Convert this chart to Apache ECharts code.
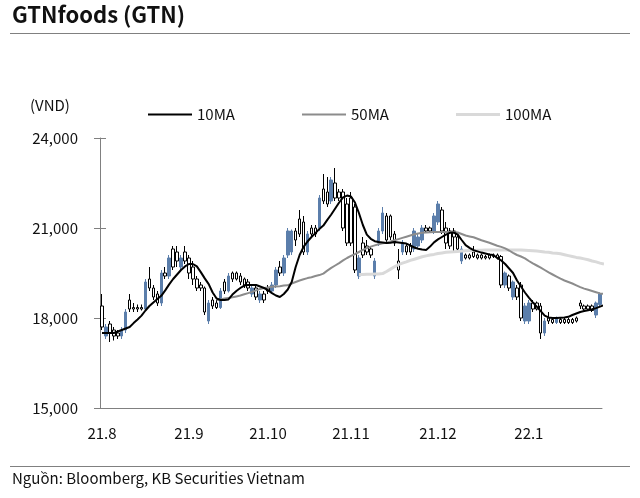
<!DOCTYPE html>
<html>
<head>
<meta charset="utf-8">
<script src="https://cdn.jsdelivr.net/npm/echarts@6/dist/echarts.min.js"></script>
<style>
html,body{margin:0;padding:0;background:#fff;}
#chart{width:640px;height:498px;}
</style>
</head>
<body>
<div id="chart"></div>
<script>
// ---- data ----
var startDate = "2021-08-02";
var endDate = "2022-01-28";
var holidays = ["2021-09-02", "2021-09-03", "2022-01-03"];
var yTicks = [15000, 18000, 21000, 24000];

var opens = [18400,17400,17800,17600,17500,17400,17600,18600,18350,18350,18350,18300,19300,19000,18800,18500,19500,19400,20300,20200,19700,20200,
20000,19700,19300,19100,19000,17900,18600,18500,18350,19200,18900,19500,19500,19400,19300,19200,18800,19000,18600,18800,
19000,18900,19100,19700,19500,20100,20200,20900,21300,21200,20200,21000,21000,21000,22300,22200,21900,22500,22200,22200,21800,
22000,21700,19400,20500,20400,20300,19400,20500,20900,21400,21400,20800,19900,20200,20400,20400,20300,20400,20600,21000,21000,20900,
21200,21600,21000,20900,20900,20700,19900,20100,20100,20200,20100,20100,20050,20100,20100,20100,20050,19100,19400,18700,19000,19100,17900,
17900,18500,18500,18400,17500,18000,17950,17850,17950,17950,17950,17950,18000,18500,18400,18400,18400,18100,18450,19200];
var closes = [17700,17700,17500,17400,17400,17600,18200,18300,18300,18300,18300,19200,19000,18700,18500,19500,19400,20000,19700,19900,20000,19900,
19500,19300,19000,19000,18200,18500,18400,18350,18900,18900,19400,19300,19300,19200,19100,19000,19000,18700,18800,18600,
18900,19100,19600,19500,20000,20900,20900,20600,20800,20200,20800,20800,20800,22000,21900,21800,22600,22000,22000,21000,20500,
20500,19600,20000,20100,20200,20100,19900,20900,21500,20600,20700,20500,19600,20500,20200,20200,20900,20700,21000,20900,20900,21400,
21800,20900,20500,20400,20700,20300,20300,20000,20000,20050,20000,20000,20000,20000,20050,20000,19100,19500,19000,19200,18700,18000,18400,
18500,18300,18300,17500,17900,17900,17850,18000,17850,17850,17850,17850,17900,18400,18300,18300,18250,18500,18800,18900];
var lows = [17600,17300,17200,17250,17300,17300,17500,18200,18200,18200,18250,18300,18900,18600,18400,18400,19300,19300,19600,19700,19600,19800,
19300,19100,18900,18900,18100,17800,18300,18300,18300,18800,18850,19200,19250,19100,19000,18900,18700,18600,18500,18500,
18800,18850,19000,19400,19400,20000,20100,20400,20700,20100,20100,20700,20700,20900,21800,21700,21800,21900,21900,20900,20400,
20400,19500,19300,20000,20100,20000,19300,20400,20800,20500,20600,20400,19300,20100,20100,20100,20200,20300,20500,20850,20850,20800,
21100,20800,20300,20300,20200,20200,19800,19950,19950,20000,19950,19950,19950,19950,20000,19950,19000,19000,18900,18600,18600,17900,17800,
17800,18200,18250,17300,17400,17800,17800,17800,17800,17800,17800,17800,17850,18300,18250,18250,18200,18000,18400,18850];
var highs = [18800,17800,17900,17700,17600,17700,18300,18800,18500,18450,18450,19300,19700,19100,18900,19600,19700,20100,20400,20400,20100,20400,
20100,19900,19400,19200,19050,18600,18700,18600,19000,19300,19500,19550,19550,19500,19350,19300,19100,19100,18900,18900,
19100,19200,19700,19900,20100,21000,20950,21000,21600,21400,20900,21100,21100,22100,22800,22700,22700,23000,22300,22300,22000,
22200,21800,20100,20700,20600,20400,20000,21000,21700,21500,21450,20900,20300,20600,20500,20500,21000,20800,21100,21100,21050,21500,
21900,21700,21200,21000,21000,20800,20400,20150,20150,20400,20150,20150,20100,20150,20150,20150,20100,19550,19450,19250,19100,19200,18500,
18600,18600,18550,18500,18000,18200,18000,18050,18000,18000,18000,18000,18050,18600,18450,18450,18450,18550,18850,19300];

var ma10 = [17500,17500,17500,17500,17550,17600,17650,17700,17830,17950,18080,18250,18400,18520,18630,18740,18920,19120,19300,19450,19600,19720,
19800,19800,19720,19530,19320,19130,18850,18650,18600,18600,18620,18780,18900,19000,19080,19100,19100,19100,19050,19000,
18930,18830,18750,18700,18800,18950,19200,19700,20100,20370,20550,20700,20830,20970,21080,21270,21450,21650,21850,22020,22080,
22050,21850,21500,21100,20780,20640,20560,20530,20520,20500,20510,20530,20520,20500,20480,20420,20350,20310,20280,20270,20380,20520,
20620,20700,20780,20840,20850,20780,20600,20430,20340,20260,20220,20180,20150,20120,20100,20000,19920,19800,19650,19500,19250,19050,18850,
18680,18520,18380,18230,18080,18020,18000,18000,18010,18020,18040,18100,18150,18200,18230,18260,18290,18330,18380,18430];
var ma50 = [null,null,null,null,null,null,null,null,null,null,null,null,null,null,null,null,null,null,null,null,null,null,
null,null,null,null,null,null,null,18600,18620,18650,18670,18690,18720,18750,18790,18830,18870,18920,18970,19000,
19020,19040,19050,19060,19080,19090,19150,19200,19250,19290,19330,19360,19400,19430,19480,19580,19670,19750,19830,19920,20000,
20070,20130,20200,20270,20330,20380,20420,20460,20490,20510,20550,20590,20630,20670,20710,20750,20790,20820,20840,20850,20860,20870,
20870,20870,20870,20870,20870,20850,20800,20750,20720,20690,20640,20590,20550,20510,20460,20410,20370,20320,20250,20170,20100,20050,19990,
19900,19820,19750,19680,19600,19520,19450,19380,19310,19250,19200,19150,19090,19030,18980,18940,18900,18860,18820,18800];
var ma100 = [null,null,null,null,null,null,null,null,null,null,null,null,null,null,null,null,null,null,null,null,null,null,
null,null,null,null,null,null,null,null,null,null,null,null,null,null,null,null,null,null,null,null,
null,null,null,null,null,null,null,null,null,null,null,null,null,null,null,null,null,null,null,null,null,
null,null,19450,19450,19460,19460,19470,19470,19480,19550,19630,19710,19780,19830,19870,19920,19960,20000,20040,20070,20100,20120,
20150,20170,20190,20200,20210,20220,20230,20240,20250,20250,20260,20260,20270,20270,20270,20270,20270,20270,20270,20270,20270,20270,20260,
20250,20240,20230,20220,20200,20190,20170,20160,20140,20110,20080,20050,20020,20000,19970,19940,19900,19870,19830,19800];

// ---- build categories (trading days) ----
function fmt(d){var m=d.getMonth()+1, dd=d.getDate();return d.getFullYear()+"-"+(m<10?"0":"")+m+"-"+(dd<10?"0":"")+dd;}
var dates = [];
(function(){
  var d = new Date(startDate+"T00:00:00"), e = new Date(endDate+"T00:00:00");
  while (d <= e) {
    var wd = d.getDay(), s = fmt(d);
    if (wd !== 0 && wd !== 6 && holidays.indexOf(s) < 0) dates.push(s);
    d.setDate(d.getDate()+1);
  }
})();
var monthStart = {};
dates.forEach(function(s,i){ if (i===0 || s.slice(0,7)!==dates[i-1].slice(0,7)) monthStart[i]=true; });
function monthLabel(s){ return s.slice(2,4)+"."+parseInt(s.slice(5,7),10); }

var candles = dates.map(function(s,i){ return [opens[i], closes[i], lows[i], highs[i]]; });

var FONT = "'Noto Sans CJK KR','Noto Sans',sans-serif";
var chart = echarts.init(document.getElementById('chart'), null, {renderer:'canvas'});
chart.setOption({
  animation:false,
  backgroundColor:'#ffffff',
  textStyle:{fontFamily:FONT},
  grid:{left:100, right:38, top:138, bottom:90},
  legend:[
    {data:['10MA'], left:143, top:102, icon:'rect', itemWidth:44, itemHeight:2, itemGap:0, textStyle:{fontFamily:FONT,fontSize:15,color:'#111'}},
    {data:['50MA'], left:297, top:102, icon:'rect', itemWidth:44, itemHeight:2, itemGap:0, textStyle:{fontFamily:FONT,fontSize:15,color:'#111'}},
    {data:['100MA'], left:451, top:102, icon:'rect', itemWidth:44, itemHeight:3, itemGap:0, textStyle:{fontFamily:FONT,fontSize:15,color:'#111'}}
  ],
  xAxis:{
    type:'category', data:dates, boundaryGap:true,
    axisLine:{lineStyle:{color:'#808080',width:1}},
    axisTick:{inside:true, length:6, lineStyle:{color:'#808080'}, interval:function(i){return !!monthStart[i];}},
    axisLabel:{interval:function(i){return !!monthStart[i];}, formatter:function(v){return monthLabel(v);}, fontSize:15, color:'#111', margin:18, fontFamily:FONT},
    splitLine:{show:false}
  },
  yAxis:[
    {type:'value', min:15000, max:24000, interval:3000,
     axisLine:{show:true, lineStyle:{color:'#808080'}},
     axisTick:{show:true, length:6, lineStyle:{color:'#808080'}},
     axisLabel:{fontSize:15, color:'#111', margin:22, fontFamily:FONT, formatter:function(v){return v.toLocaleString('en-US');}},
     splitLine:{show:false}},
    {type:'value', min:15000, max:24000, interval:3000, position:'left', offset:0,
     axisLine:{show:false}, axisTick:{show:true, inside:true, length:6, lineStyle:{color:'#808080'}},
     axisLabel:{show:false}, splitLine:{show:false}}
  ],
  series:[
    {type:'candlestick', name:'price', data:candles, barWidth:3,
     itemStyle:{color:'#5b7eab', color0:'#ffffff', borderColor:'#5b7eab', borderColor0:'#000000', borderWidth:1}},
    {type:'line', name:'100MA', data:ma100, symbol:'none', smooth:false, color:'#d9d9d9', lineStyle:{color:'#d9d9d9', width:3}},
    {type:'line', name:'50MA', data:ma50, symbol:'none', smooth:false, color:'#8c8c8c', lineStyle:{color:'#8c8c8c', width:2}},
    {type:'line', name:'10MA', data:ma10, symbol:'none', smooth:false, color:'#000000', lineStyle:{color:'#000000', width:2}}
  ],
  graphic:[
    {type:'text', left:12, top:4, style:{text:'GTNfoods (GTN)', font:"bold 22px "+FONT, fill:'#111'}},
    {type:'line', shape:{x1:10,y1:33.5,x2:630,y2:33.5}, style:{stroke:'#808080', lineWidth:1}},
    {type:'text', left:30, top:98, style:{text:'(VND)', font:"15px "+FONT, fill:'#111'}},
    {type:'line', shape:{x1:10,y1:466.5,x2:630,y2:466.5}, style:{stroke:'#808080', lineWidth:1}},
    {type:'text', left:12, top:471, style:{text:'Nguồn: Bloomberg, KB Securities Vietnam', font:"15px "+FONT, fill:'#111'}}
  ]
});
</script>
</body>
</html>
